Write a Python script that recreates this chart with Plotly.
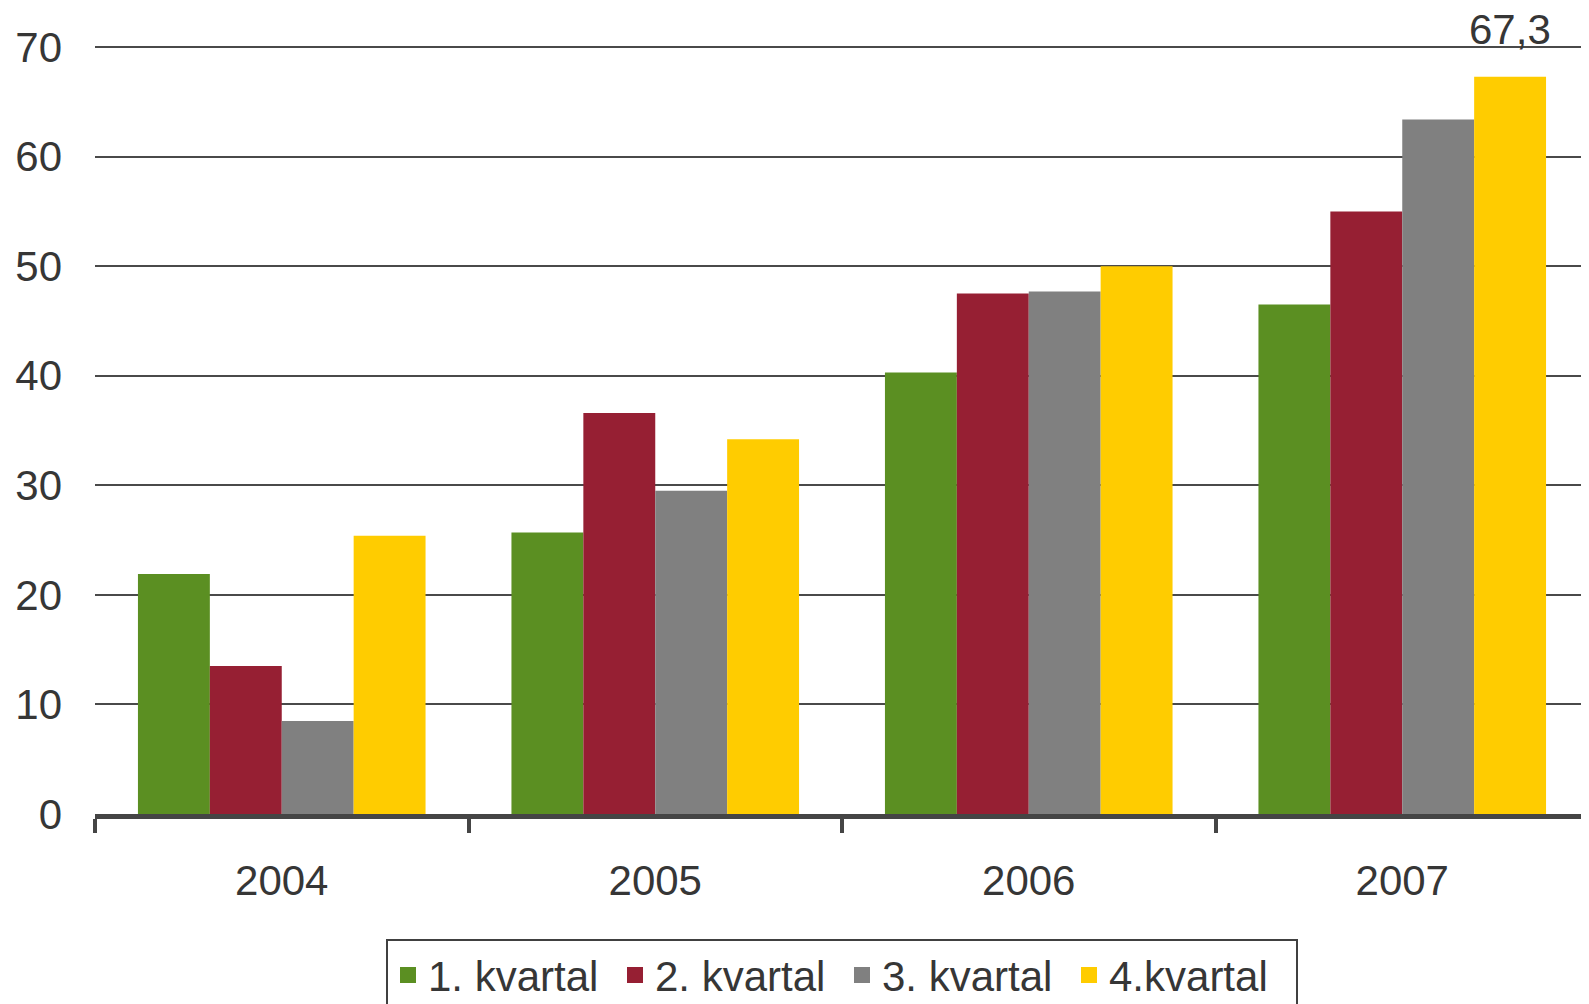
import plotly.graph_objects as go

years = ["2004", "2005", "2006", "2007"]
series_names = ["1. kvartal", "2. kvartal", "3. kvartal", "4.kvartal"]
q1 = [21.9, 25.7, 40.3, 46.5]
q2 = [13.5, 36.6, 47.5, 55.0]
q3 = [8.5, 29.5, 47.7, 63.4]
q4 = [25.4, 34.2, 50.0, 67.3]
colors = ["#5B8F22", "#961F33", "#808080", "#FFCC00"]
y_ticks = [0, 10, 20, 30, 40, 50, 60, 70]
label_text = "67,3"

font_family = "Liberation Sans, Arial, sans-serif"
text_color = "#363636"
fs = 42

fig = go.Figure()
for name, vals, col in zip(series_names, [q1, q2, q3, q4], colors):
    fig.add_trace(go.Bar(x=years, y=vals, name=name, showlegend=False,
                         marker=dict(color=col, line=dict(width=0))))
for name, col in zip(series_names, colors):
    fig.add_trace(go.Scatter(x=[years[0]], y=[None], mode="markers", name=name,
                             marker=dict(symbol="square", size=20, color=col)))

# page body has an 8px margin; size the figure to fill the remaining viewport
W, H = 1581, 996
ml, mr, mt, mb = 87, 0, 38, 190
bargap = 0.23
cat_w = (W - ml - mr) / len(years)
bar_w = cat_w * (1 - bargap) / 4

fig.add_annotation(x=len(years) - 1, y=70, xref="x", yref="y", text=label_text,
                   showarrow=False, yanchor="bottom", xshift=1.5 * bar_w, yshift=-8,
                   font=dict(size=fs, color=text_color, family=font_family))

fig.update_layout(
    width=W, height=H,
    margin=dict(l=ml, r=mr, t=mt, b=mb, autoexpand=False),
    plot_bgcolor="white", paper_bgcolor="white",
    barmode="group", bargap=bargap, bargroupgap=0,
    font=dict(family=font_family, size=fs, color=text_color),
    showlegend=True,
    legend=dict(orientation="h", x=0.5, xanchor="center", y=-0.163, yanchor="top",
                bordercolor="#404040", borderwidth=2, font=dict(size=fs, color=text_color),
                itemsizing="trace", tracegroupgap=0, entrywidth=182, entrywidthmode="pixels"),
    xaxis=dict(type="category", categoryorder="array", categoryarray=years,
               range=[-0.5, len(years) - 0.5], autorange=False,
               showline=True, linecolor="#454545", linewidth=5,
               ticks="outside", tickson="boundaries", ticklen=14, tickwidth=4, tickcolor="#454545",
               ticklabelstandoff=26,
               tickfont=dict(size=fs, color=text_color), showgrid=False, tickangle=0),
    yaxis=dict(range=[0, 70.1], autorange=False, tickvals=y_ticks, showgrid=True,
               gridcolor="#4a4a4a", gridwidth=2,
               zeroline=False, showline=False, ticks="", ticklabelstandoff=32,
               tickfont=dict(size=fs, color=text_color)),
)

fig.write_html("out.html")
